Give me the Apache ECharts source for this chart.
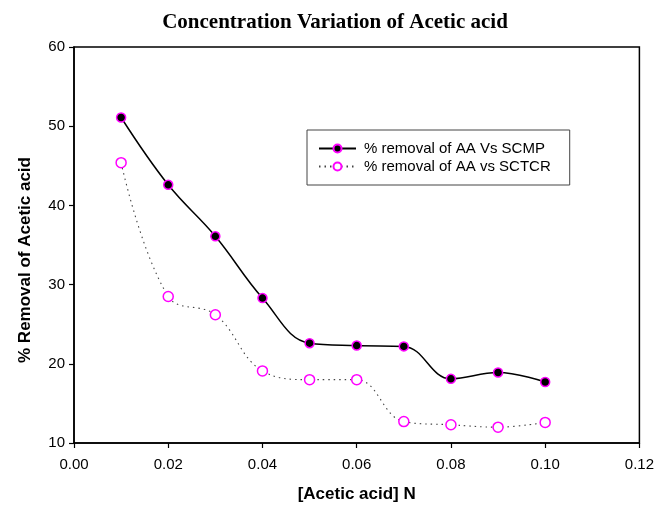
<!DOCTYPE html>
<html>
<head>
<meta charset="utf-8">
<script src="https://cdn.jsdelivr.net/npm/echarts@6/dist/echarts.min.js"></script>
<style>
  html, body { margin: 0; padding: 0; background: #fff; }
  #chart { width: 657px; height: 508px; }
</style>
</head>
<body>
<div id="chart"></div>
<script>
// Acetic acid concentration (N)
var concentrations = [0.01, 0.02, 0.03, 0.04, 0.05, 0.06, 0.07, 0.08, 0.09, 0.10];
// % removal of acetic acid with SCMP
var removalSCMP = [51.1, 42.6, 36.1, 28.3, 22.6, 22.3, 22.2, 18.1, 18.9, 17.7];
// % removal of acetic acid with SCTCR
var removalSCTCR = [45.4, 28.5, 26.2, 19.1, 18.0, 18.0, 12.7, 12.3, 12.0, 12.6];

var seriesNames = ['% removal of AA Vs SCMP', '% removal of AA vs SCTCR'];

function pairs(xs, ys) {
  return xs.map(function (x, i) { return [x, ys[i]]; });
}

var chart = echarts.init(document.getElementById('chart'), null, { renderer: 'canvas' });

var sans = 'Arial, "Liberation Sans", sans-serif';
var axisText = { color: '#000', fontFamily: sans, fontSize: 15 };

chart.setOption({
  backgroundColor: '#fff',
  animation: false,
  title: {
    text: 'Concentration Variation of Acetic acid',
    left: 330,
    textAlign: 'center',
    top: 7,
    textStyle: {
      fontFamily: '"Times New Roman", "Liberation Serif", serif',
      fontWeight: 'bold',
      fontSize: 21,
      color: '#000'
    }
  },
  legend: {
    orient: 'vertical',
    left: 307,
    top: 130,
    padding: [11, 19, 11, 11],
    itemGap: 3,
    itemWidth: 37,
    itemHeight: 10,
    borderColor: '#444',
    borderWidth: 1,
    backgroundColor: '#fff',
    textStyle: { color: '#000', fontFamily: sans, fontSize: 15, padding: [0, 0, 0, 3] },
    data: seriesNames
  },
  grid: {
    left: 74,
    right: 17,
    top: 47,
    bottom: 65,
    show: true,
    borderColor: '#000',
    borderWidth: 1.5,
    backgroundColor: 'transparent'
  },
  xAxis: {
    type: 'value',
    min: 0,
    max: 0.12,
    interval: 0.02,
    name: '[Acetic acid] N',
    nameLocation: 'middle',
    nameGap: 43,
    nameTextStyle: { color: '#000', fontFamily: sans, fontWeight: 'bold', fontSize: 17 },
    axisLine: { show: true, lineStyle: { color: '#000', width: 1.5 } },
    axisTick: { show: true, inside: false, length: 5, lineStyle: { color: '#000', width: 1.2 } },
    axisLabel: Object.assign({ margin: 14, formatter: function (v) { return v.toFixed(2); } }, axisText),
    splitLine: { show: false }
  },
  yAxis: {
    type: 'value',
    min: 10,
    max: 60,
    interval: 10,
    name: '% Removal of Acetic acid',
    nameLocation: 'middle',
    nameGap: 40,
    nameTextStyle: { color: '#000', fontFamily: sans, fontWeight: 'bold', fontSize: 17, padding: [0, 30, 0, 0] },
    axisLine: { show: true, lineStyle: { color: '#000', width: 1.5 } },
    axisTick: { show: true, inside: false, length: 5, lineStyle: { color: '#000', width: 1.2 } },
    axisLabel: Object.assign({ margin: 9 }, axisText),
    splitLine: { show: false }
  },
  series: [
    {
      name: seriesNames[0],
      type: 'line',
      smooth: 0.4,
      data: pairs(concentrations, removalSCMP),
      symbol: 'circle',
      symbolSize: 9,
      lineStyle: { color: '#000', width: 1.5, type: 'solid' },
      itemStyle: { color: '#000', borderColor: '#ff00ff', borderWidth: 1.5 },
      z: 3
    },
    {
      name: seriesNames[1],
      type: 'line',
      smooth: 0.4,
      data: pairs(concentrations, removalSCTCR),
      symbol: 'circle',
      symbolSize: 10,
      lineStyle: { color: '#444', width: 1.1, type: [1.5, 4] },
      itemStyle: { color: '#fff', borderColor: '#ff00ff', borderWidth: 1.5 },
      z: 2
    }
  ]
});
</script>
</body>
</html>
